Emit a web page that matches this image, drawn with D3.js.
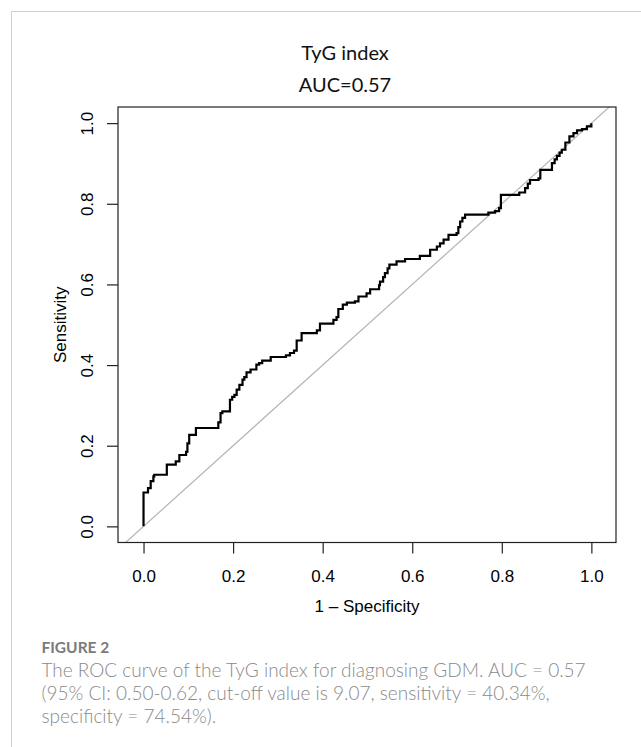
<!DOCTYPE html>
<html>
<head>
<meta charset="utf-8">
<script src="https://cdn.jsdelivr.net/npm/d3@7"></script>
<style>
  html, body { margin: 0; padding: 0; background: #fff; }
  svg { display: block; }
</style>
</head>
<body>
<div id="chart"></div>
<script>
// ROC curve points (1 - specificity, sensitivity)
var fpr = [0, 0, 0.010, 0.016, 0.022, 0.024, 0.052, 0.072, 0.080, 0.095, 0.098, 0.102, 0.117,
  0.167, 0.172, 0.176, 0.193, 0.198, 0.203, 0.208, 0.214, 0.221, 0.225, 0.230, 0.239, 0.252,
  0.258, 0.265, 0.284, 0.318, 0.327, 0.336, 0.342, 0.353, 0.387, 0.394, 0.424, 0.431, 0.435,
  0.445, 0.454, 0.472, 0.480, 0.498, 0.506, 0.526, 0.528, 0.535, 0.539, 0.545, 0.549, 0.565,
  0.584, 0.617, 0.640, 0.655, 0.662, 0.670, 0.681, 0.699, 0.703, 0.707, 0.712, 0.718, 0.770,
  0.785, 0.794, 0.798, 0.839, 0.852, 0.858, 0.863, 0.882, 0.886, 0.912, 0.918, 0.923, 0.929,
  0.934, 0.942, 0.951, 0.960, 0.968, 0.979, 0.990, 1.000];
var tpr = [0, 0.084, 0.095, 0.112, 0.124, 0.128, 0.153, 0.161, 0.177, 0.185, 0.206, 0.227, 0.244,
  0.258, 0.281, 0.285, 0.314, 0.321, 0.326, 0.339, 0.351, 0.364, 0.370, 0.382, 0.389, 0.401,
  0.405, 0.411, 0.420, 0.424, 0.430, 0.436, 0.461, 0.479, 0.486, 0.503, 0.512, 0.519, 0.539,
  0.550, 0.555, 0.558, 0.570, 0.578, 0.588, 0.598, 0.607, 0.618, 0.628, 0.640, 0.649, 0.657,
  0.663, 0.671, 0.686, 0.694, 0.702, 0.711, 0.723, 0.727, 0.742, 0.756, 0.765, 0.773, 0.778,
  0.782, 0.789, 0.822, 0.828, 0.839, 0.850, 0.859, 0.863, 0.884, 0.901, 0.910, 0.919, 0.927,
  0.934, 0.952, 0.967, 0.975, 0.982, 0.985, 0.992, 1.000];

var ticks = [0, 0.2, 0.4, 0.6, 0.8, 1.0];
var titleLines = ['TyG index', 'AUC=0.57'];
var xLabel = '1 \u2013 Specificity';
var yLabel = 'Sensitivity';
var figLabel = 'FIGURE 2';
var captionLines = [
  'The ROC curve of the TyG index for diagnosing GDM. AUC = 0.57',
  '(95% CI: 0.50-0.62, cut-off value is 9.07, sensitivity = 40.34%,',
  'specificity = 74.54%).'
];

var W = 641, H = 747;
var box = { left: 118, right: 616, top: 107, bottom: 542.5 };

var svg = d3.select('#chart').append('svg').attr('width', W).attr('height', H);

// light frame round the figure
svg.append('path')
  .attr('d', 'M11.5,' + H + 'V11.5H' + W)
  .attr('fill', 'none').attr('stroke', '#d0d0d0').attr('stroke-width', 1);

var x = d3.scaleLinear().domain([-0.057, 1.055]).range([box.left, box.right]);
var y = d3.scaleLinear().domain([-0.04, 1.04]).range([box.bottom, box.top]);

svg.append('clipPath').attr('id', 'plotclip')
  .append('rect')
  .attr('x', box.left).attr('y', box.top)
  .attr('width', box.right - box.left).attr('height', box.bottom - box.top);

// reference diagonal
svg.append('line')
  .attr('clip-path', 'url(#plotclip)')
  .attr('x1', x(-0.1)).attr('y1', y(-0.1))
  .attr('x2', x(1.1)).attr('y2', y(1.1))
  .attr('stroke', '#b4b4b4').attr('stroke-width', 1.2);

// roc curve
var pts = fpr.map(function (d, i) { return [d, tpr[i]]; });
var line = d3.line()
  .x(function (d) { return x(d[0]); })
  .y(function (d) { return y(d[1]); })
  .curve(d3.curveStepAfter);

svg.append('path')
  .datum(pts)
  .attr('d', line)
  .attr('fill', 'none')
  .attr('stroke', '#000')
  .attr('stroke-width', 2.2)
  .attr('stroke-linejoin', 'miter');

// box
svg.append('rect')
  .attr('x', box.left).attr('y', box.top)
  .attr('width', box.right - box.left).attr('height', box.bottom - box.top)
  .attr('fill', 'none').attr('stroke', '#222').attr('stroke-width', 1.2);

var axisFont = '"Liberation Sans", Arial, sans-serif';

var xAxis = d3.axisBottom(x).tickValues(ticks).tickFormat(d3.format('.1f'))
  .tickSize(11).tickPadding(16);
var gx = svg.append('g')
  .attr('transform', 'translate(0,' + box.bottom + ')')
  .call(xAxis);
gx.select('.domain').remove();
gx.selectAll('line').attr('stroke', '#222').attr('stroke-width', 1.2);
gx.selectAll('text').attr('font-family', axisFont).attr('font-size', 17).attr('fill', '#000');

var yAxis = d3.axisLeft(y).tickValues(ticks).tickFormat(d3.format('.1f')).tickSize(11);
var gy = svg.append('g')
  .attr('transform', 'translate(' + box.left + ',0)')
  .call(yAxis);
gy.select('.domain').remove();
gy.selectAll('line').attr('stroke', '#222').attr('stroke-width', 1.2);
gy.selectAll('text')
  .attr('x', null).attr('dy', null)
  .attr('transform', 'translate(-25,0) rotate(-90)')
  .attr('text-anchor', 'middle')
  .attr('font-family', axisFont).attr('font-size', 17).attr('fill', '#000');

svg.append('text')
  .attr('x', (box.left + box.right) / 2).attr('y', 612)
  .attr('text-anchor', 'middle')
  .attr('font-family', axisFont).attr('font-size', 17)
  .text(xLabel);

svg.append('text')
  .attr('transform', 'translate(66,' + ((box.top + box.bottom) / 2) + ') rotate(-90)')
  .attr('text-anchor', 'middle')
  .attr('font-family', axisFont).attr('font-size', 17)
  .text(yLabel);

// title
svg.selectAll('.title').data(titleLines).enter().append('text')
  .attr('class', 'title')
  .attr('x', 345)
  .attr('y', function (d, i) { return 60 + i * 31.5; })
  .attr('text-anchor', 'middle')
  .attr('font-family', 'Lato, "Open Sans", sans-serif')
  .attr('font-size', 20)
  .attr('fill', '#111')
  .text(function (d) { return d; });

// caption
svg.append('text')
  .attr('x', 41.5).attr('y', 653)
  .attr('font-family', 'Lato, "Open Sans", sans-serif')
  .attr('font-weight', 700)
  .attr('font-size', 15.5)
  .attr('fill', '#7a7a7a')
  .text(figLabel);

svg.selectAll('.cap').data(captionLines).enter().append('text')
  .attr('class', 'cap')
  .attr('x', 41.5)
  .attr('y', function (d, i) { return 677 + i * 23; })
  .attr('font-family', 'Lato, "Open Sans", sans-serif')
  .attr('font-weight', 300)
  .attr('font-size', 19)
  .attr('fill', '#8a8a8a')
  .text(function (d) { return d; });
</script>
</body>
</html>
